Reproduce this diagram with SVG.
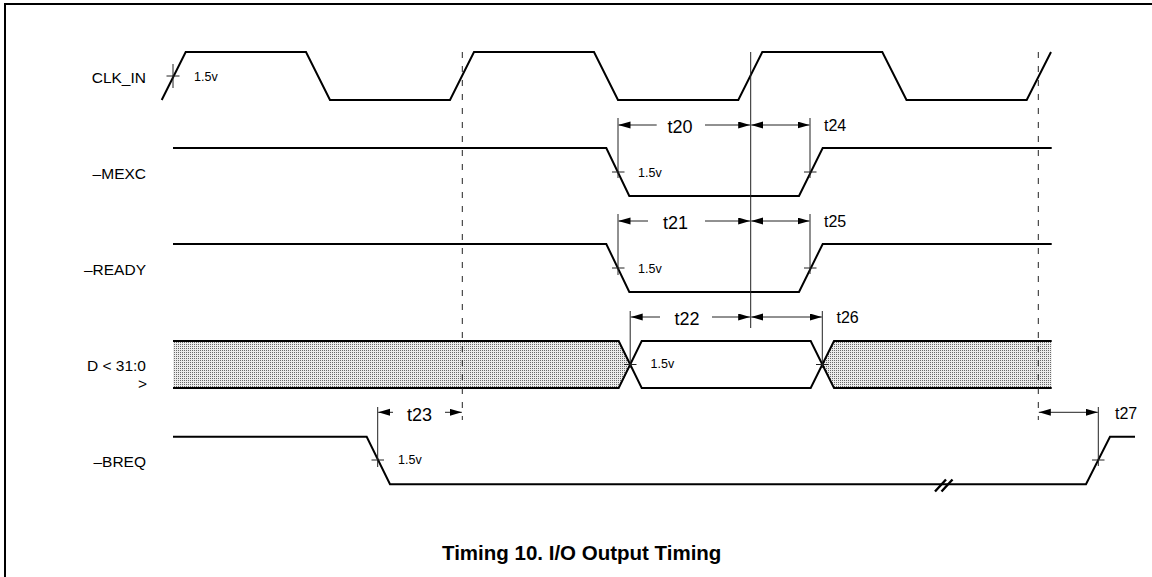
<svg xmlns="http://www.w3.org/2000/svg" width="1152" height="577" viewBox="0 0 1152 577">
<style>
.sig{fill:none;stroke:#000;stroke-width:2;stroke-linejoin:miter}
.dim{fill:none;stroke:#222;stroke-width:1}
.dash{fill:none;stroke:#222;stroke-width:1;stroke-dasharray:6 8}
.lbl{font-family:"Liberation Sans",Arial,sans-serif;font-size:15.5px;fill:#000;text-anchor:end}
.v{font-family:"Liberation Sans",Arial,sans-serif;font-size:12.5px;fill:#000}
.t{font-family:"Liberation Sans",Arial,sans-serif;font-size:18px;fill:#000;text-anchor:middle}
.ts{font-family:"Liberation Sans",Arial,sans-serif;font-size:16px;fill:#000}
.ttl{font-family:"Liberation Sans",Arial,sans-serif;font-size:20.5px;font-weight:bold;fill:#000;text-anchor:middle}
.arr{fill:none;stroke:#222;stroke-width:1;marker-end:url(#ah)}
.hatch{fill:url(#dots);stroke:none}
</style>
<defs>
<pattern id="dots" patternUnits="userSpaceOnUse" width="2" height="2">
<rect width="2" height="2" fill="#ececec"/>
<rect width="1" height="1" fill="#6a6a6a"/>
</pattern>
<marker id="ah" markerUnits="userSpaceOnUse" markerWidth="12" markerHeight="8" refX="12" refY="3.5" orient="auto">
<path d="M0,0 L12,3.5 L0,7 z" fill="#000"/>
</marker>
</defs>
<rect width="1152" height="577" fill="#fff"/>
<g id="frame">
<path d="M5,577 V4 H1152" fill="none" stroke="#000" stroke-width="2"/>
</g>
<g id="clk_in">
<text class="lbl" x="146" y="83">CLK_IN</text>
<path class="sig" d="M161.7,100 L185.7,52 H306 L330,100 H450 L474,52 H594 L618,100 H738.3 L762.3,52 H882.3 L906.5,100 H1026.7 L1051,52"/>
<path class="dim" d="M173,64 V88 M166.5,76 H179.5"/>
<text class="v" x="194" y="81">1.5v</text>
</g>
<g id="mexc">
<text class="lbl" x="146" y="179">–MEXC</text>
<path class="sig" d="M173,148 H606.3 L629.3,196 H799 L822.7,148 H1051.7"/>
<path class="dim" d="M612,172 H624.5 M804,172 H816.5"/>
<text class="v" x="638" y="177">1.5v</text>
</g>
<g id="ready">
<text class="lbl" x="146" y="275">–READY</text>
<path class="sig" d="M173,244 H606.3 L629.3,292 H799 L822.7,244 H1051.7"/>
<path class="dim" d="M612,268 H624.5 M804,268 H816.5"/>
<text class="v" x="638" y="273">1.5v</text>
</g>
<g id="data">
<text class="lbl" x="146" y="371">D &lt; 31:0</text>
<text class="lbl" x="147" y="389">&gt;</text>
<polygon class="hatch" points="173,341 618.7,341 630.2,364.5 618.7,388 173,388"/>
<polygon class="hatch" points="1051.7,341 834,341 822.3,364.5 834,388 1051.7,388"/>
<path class="sig" d="M173,341 H618.7 L641.7,388 H810.7 L834,341 H1051.7 M173,388 H618.7 L641.7,341 H810.7 L834,388 H1051.7"/>
<path class="dim" d="M624,364.5 H636.5 M816,364.5 H828.5"/>
<text class="v" x="650.5" y="368">1.5v</text>
</g>
<g id="breq">
<text class="lbl" x="146" y="467">–BREQ</text>
<path class="sig" d="M173,436.7 H366.7 L390,484.3 H1086 L1110,436.7 H1135"/>
<path d="M935,491.5 L946,479.5 M941.5,491.5 L952.5,479.5" fill="none" stroke="#000" stroke-width="2.4"/>
<path class="dim" d="M371.5,460 H384 M1092,460 H1104.5"/>
<text class="v" x="398" y="464">1.5v</text>
</g>
<g id="connectors">
<path class="dash" d="M462.3,52 V420 M1038.3,52 V420"/>
<path class="dim" d="M750.7,52 V328"/>
<path class="dim" d="M618,118 V178 M810,118 V178 M618,214 V275 M810,214 V274 M630.2,311 V368 M822.3,311 V368 M377.7,407 V467 M1098.3,407 V466"/>
<path class="arr" d="M656.7,125 H618.5"/>
<path class="arr" d="M705,125 H750.2"/>
<path class="arr" d="M780,125 H751.2"/>
<path class="arr" d="M780,125 H809.5"/>
<text class="t" x="680" y="132.5">t20</text>
<text class="ts" x="824" y="130.5">t24</text>
<path class="arr" d="M648,221 H618.5"/>
<path class="arr" d="M705,221 H750.2"/>
<path class="arr" d="M780,221 H751.2"/>
<path class="arr" d="M780,221 H809.5"/>
<text class="t" x="675.5" y="229">t21</text>
<text class="ts" x="824" y="226.7">t25</text>
<path class="arr" d="M660,317 H630.7"/>
<path class="arr" d="M712,317 H750.2"/>
<path class="arr" d="M786,317 H751.2"/>
<path class="arr" d="M786,317 H821.8"/>
<text class="t" x="687" y="325">t22</text>
<text class="ts" x="836.5" y="322.7">t26</text>
<path class="arr" d="M393,412.3 H378.2"/>
<path class="arr" d="M445,412.3 H461.8"/>
<text class="t" x="419.5" y="420.5">t23</text>
<path class="arr" d="M1068,412.3 H1038.8"/>
<path class="arr" d="M1068,412.3 H1097.8"/>
<text class="ts" x="1115" y="419">t27</text>
</g>
<g id="title">
<text class="ttl" x="581.7" y="560">Timing 10. I/O Output Timing</text>
</g>
</svg>
